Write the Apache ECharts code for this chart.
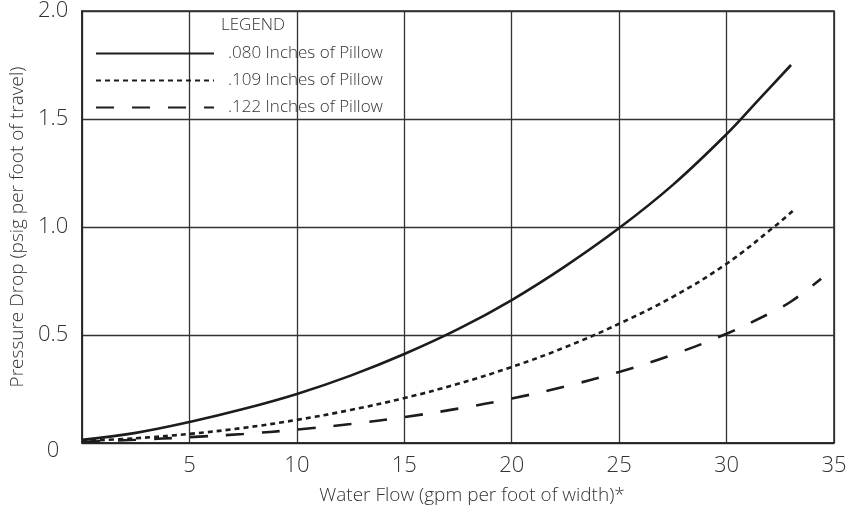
<!DOCTYPE html>
<html>
<head>
<meta charset="utf-8">
<script src="https://cdn.jsdelivr.net/npm/echarts@6/dist/echarts.min.js"></script>
<style>
html,body{margin:0;padding:0;background:#fff;}
#chart{width:857px;height:510px;}
</style>
</head>
<body>
<div id="chart"></div>
<script>
// Data
var seriesNames = ['.080 Inches of Pillow', '.109 Inches of Pillow', '.122 Inches of Pillow'];

var flow080 = [0, 2.5, 5, 7.5, 10, 12.5, 15, 17.5, 20, 22.5, 25, 27.5, 30, 31.5, 33];
var drop080 = [0.015, 0.047, 0.097, 0.157, 0.227, 0.312, 0.412, 0.527, 0.662, 0.819, 0.995, 1.195, 1.43, 1.59, 1.75];

var flow109 = [0, 2.5, 5, 7.5, 10, 12.5, 15, 17.5, 20, 22.5, 25, 27.5, 30, 32.2, 33.2];
var drop109 = [0.01, 0.022, 0.042, 0.07, 0.107, 0.153, 0.208, 0.274, 0.352, 0.444, 0.552, 0.677, 0.83, 1.0, 1.085];

var flow122 = [0, 2.5, 5, 7.5, 10, 12.5, 15, 17.5, 20, 22.5, 25, 27.5, 30, 32, 33, 34.4];
var drop122 = [0.005, 0.015, 0.027, 0.042, 0.062, 0.088, 0.12, 0.159, 0.206, 0.262, 0.329, 0.409, 0.506, 0.6, 0.655, 0.76];

var xTicks = [0, 5, 10, 15, 20, 25, 30, 35];
var yTicks = [0, 0.5, 1.0, 1.5, 2.0];

var xTitle = 'Water Flow (gpm per foot of width)*';
var yTitle = 'Pressure Drop (psig per foot of travel)';
var legendTitle = 'LEGEND';

function pairs(xs, ys) {
  return xs.map(function (x, i) { return [x, ys[i]]; });
}

var FONT = '"Open Sans", "Liberation Sans", sans-serif';
var FW = 300;
var TXT = '#333';
var LINE = '#1c1c1c';

var chart = echarts.init(document.getElementById('chart'), null, {renderer: 'canvas'});

var option = {
  animation: false,
  backgroundColor: '#fff',
  title: {
    text: legendTitle,
    left: 216,
    top: 12,
    textStyle: {fontFamily: FONT, fontWeight: FW, fontSize: 17, color: TXT}
  },
  legend: {
    orient: 'vertical',
    left: 90,
    top: 39,
    itemWidth: 118,
    itemHeight: 14,
    itemGap: 8,
    data: seriesNames,
    itemStyle: {opacity: 0},
    textStyle: {fontFamily: FONT, fontWeight: FW, fontSize: 17, lineHeight: 19, color: TXT, padding: [0, 0, 0, 9]}
  },
  grid: {
    left: 80, right: 23, top: 11, bottom: 67,
    show: true, borderColor: '#222', borderWidth: 1.5, backgroundColor: 'transparent'
  },
  xAxis: {
    type: 'value',
    min: xTicks[0], max: xTicks[xTicks.length - 1], interval: 5,
    name: xTitle,
    nameLocation: 'middle',
    nameGap: 43,
    nameTextStyle: {fontFamily: FONT, fontWeight: FW, fontSize: 19, color: TXT, padding: [0, 0, 0, 28]},
    axisLine: {show: true, lineStyle: {color: '#222', width: 1.5}},
    axisTick: {show: false},
    splitLine: {show: true, lineStyle: {color: '#333', width: 1.3}},
    axisLabel: {
      fontFamily: FONT, fontWeight: FW, fontSize: 22, color: TXT, margin: 12,
      showMaxLabel: true, showMinLabel: true,
      formatter: function (v) { return v === 0 ? '' : String(v); }
    }
  },
  yAxis: {
    type: 'value',
    min: yTicks[0], max: yTicks[yTicks.length - 1], interval: 0.5,
    name: yTitle,
    nameLocation: 'middle',
    nameGap: 54,
    nameTextStyle: {fontFamily: FONT, fontWeight: FW, fontSize: 19, color: TXT},
    axisLine: {show: true, lineStyle: {color: '#222', width: 1.5}},
    axisTick: {show: false},
    splitLine: {show: true, lineStyle: {color: '#333', width: 1.3}},
    axisLabel: {
      fontFamily: FONT, fontWeight: FW, fontSize: 22, color: TXT, margin: 29, align: 'center',
      formatter: function (v) { return v === 0 ? '{z|0}' : v.toFixed(1); },
      rich: {z: {fontFamily: FONT, fontWeight: FW, fontSize: 22, color: TXT, padding: [16, 0, 0, 0]}}
    }
  },
  series: [
    {
      name: seriesNames[0], type: 'line', smooth: 0.4, symbol: 'none',
      data: pairs(flow080, drop080),
      lineStyle: {color: LINE, width: 2.6, type: 'solid'},
      itemStyle: {color: LINE}
    },
    {
      name: seriesNames[1], type: 'line', smooth: 0.4, symbol: 'none',
      data: pairs(flow109, drop109),
      lineStyle: {color: LINE, width: 2.6, type: [5, 4]},
      itemStyle: {color: LINE}
    },
    {
      name: seriesNames[2], type: 'line', smooth: 0.4, symbol: 'none',
      data: pairs(flow122, drop122),
      lineStyle: {color: LINE, width: 2.6, type: [18, 18]},
      itemStyle: {color: LINE}
    }
  ]
};
chart.setOption(option);
</script>
</body>
</html>
